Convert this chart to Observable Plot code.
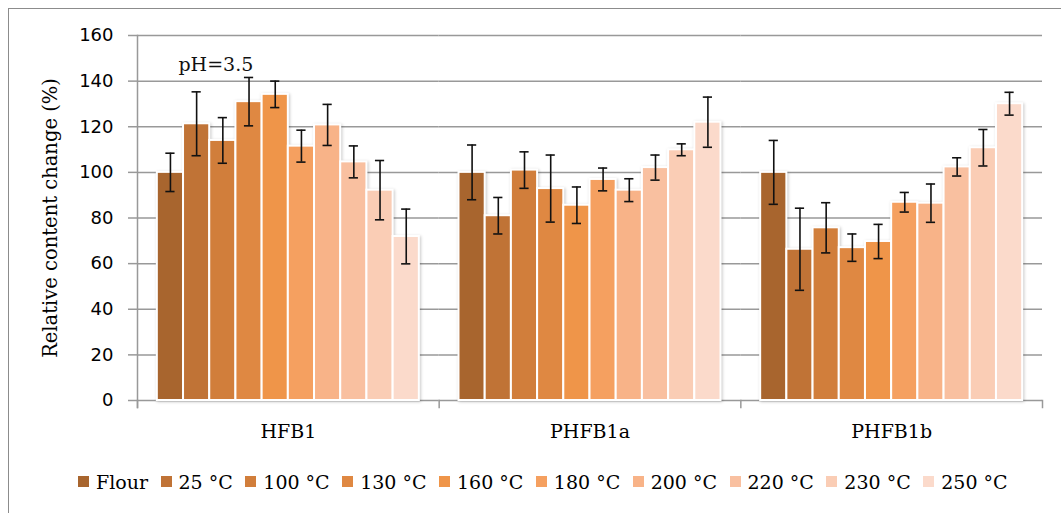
<!DOCTYPE html>
<html><head><meta charset="utf-8">
<script src="https://cdn.jsdelivr.net/npm/d3@7"></script>
<script src="https://cdn.jsdelivr.net/npm/@observablehq/plot@0.6"></script>
<style>
body{margin:0;background:#fff;}
#wrap{position:relative;width:1061px;height:513px;overflow:hidden;background:#fff;}
#border{position:absolute;left:8px;top:8px;right:-10px;bottom:-10px;border-left:1.5px solid #8c8c8c;border-top:1.5px solid #8c8c8c;pointer-events:none;}
#chart{position:absolute;left:0;top:0;}
#legend{position:absolute;left:78px;top:465px;}
div .lg-swatches-wrap{min-height:33px !important;}
div .lg-swatch{margin-right:12.5px !important;}
div .lg-swatch > svg{margin-right:7px !important;}
</style></head><body>
<div id="wrap"><div id="chart"></div><div id="legend"></div><div id="border"></div></div>
<script>
const groups = ["HFB1", "PHFB1a", "PHFB1b"];
const temps = ["Flour", "25 °C", "100 °C", "130 °C", "160 °C", "180 °C", "200 °C", "220 °C", "230 °C", "250 °C"];
const colors = ["#a8652e", "#c07336", "#d17e3b", "#df8842", "#ef9549", "#f5a060", "#f8b388", "#f9c0a0", "#facdb5", "#fbdacb"];
const hfb1 = [100, 121.3, 114, 131, 134.2, 111.5, 120.8, 104.6, 92.2, 71.9];
const hfb1Err = [8.4, 14, 10, 10.6, 5.8, 7, 9, 7, 13, 12];
const phfb1a = [100, 81, 101, 92.9, 85.6, 96.9, 92.2, 102.1, 109.9, 122];
const phfb1aErr = [12, 8, 8, 14.7, 8, 5, 5, 5.5, 2.6, 11];
const phfb1b = [100, 66.3, 75.7, 67, 69.7, 86.9, 86.5, 102.4, 110.8, 130.1];
const phfb1bErr = [14, 18, 11, 6, 7.5, 4.3, 8.4, 4, 8, 5];
const yTicks = [0, 20, 40, 60, 80, 100, 120, 140, 160];
const notes = [{group: "HFB1", temp: "100 °C", y: 147, text: "pH=3.5"}];

const values = [hfb1, phfb1a, phfb1b];
const errors = [hfb1Err, phfb1aErr, phfb1bErr];
const data = [];
groups.forEach((g, gi) => temps.forEach((t, ti) => data.push({group: g, temp: t, value: values[gi][ti], err: errors[gi][ti]})));

const serif = "DejaVu Serif";
const grid = "#999999";

const chart = Plot.plot({
  width: 1061, height: 450,
  marginTop: 35, marginBottom: 50, marginLeft: 137, marginRight: 19,
  style: {background: "white", color: "#000", overflow: "visible"},
  fx: {domain: groups, padding: 0, round: false, axis: null},
  x: {domain: temps, paddingInner: 0, paddingOuter: 0.757, round: false, axis: null},
  y: {domain: [0, 160], axis: null},
  color: {domain: temps, range: colors},
  marks: [
    Plot.ruleY(yTicks, {stroke: grid, strokeWidth: 1.5}),
    Plot.frame({anchor: "left", facetAnchor: "left", stroke: grid, strokeWidth: 1.5, insetBottom: -7}),
    Plot.frame({anchor: "left", stroke: grid, strokeWidth: 1.5, insetTop: 365, insetBottom: -7}),
    Plot.frame({anchor: "right", facetAnchor: "right", stroke: grid, strokeWidth: 1.5, insetTop: 365, insetBottom: -7}),
    Plot.barY(data, {fx: "group", x: "temp", y: "value", fill: "temp", stroke: "white", strokeWidth: 2,
      imageFilter: "drop-shadow(1px 1px 1.5px rgba(0,0,0,0.22))"}),
    Plot.ruleX(data, {fx: "group", x: "temp", y1: d => d.value - d.err, y2: d => d.value + d.err, stroke: "#111", strokeWidth: 1.6}),
    Plot.tickY(data, {fx: "group", x: "temp", y: d => d.value - d.err, insetLeft: 8.5, insetRight: 8.5, stroke: "#111", strokeWidth: 1.6}),
    Plot.tickY(data, {fx: "group", x: "temp", y: d => d.value + d.err, insetLeft: 8.5, insetRight: 8.5, stroke: "#111", strokeWidth: 1.6}),
    Plot.text(notes, {fx: "group", x: "temp", y: "y", text: "text", fontFamily: serif, fontSize: 19, dx: -7, fill: "#111"}),
    Plot.axisY({ticks: yTicks, tickSize: 9, text: null, stroke: grid, strokeWidth: 1.5,
      label: "Relative content change (%)", labelArrow: "none", labelAnchor: "center", labelOffset: 94, fontFamily: serif, fontSize: 19.5}),
    Plot.axisY({ticks: yTicks, tickSize: 0, tickPadding: 24, fontFamily: "DejaVu Sans", fontSize: 18, label: null, fill: "#000"}),
    Plot.axisFx({anchor: "bottom", tickSize: 0, tickPadding: 24, label: null, fontFamily: serif, fontSize: 19, fill: "#000"})
  ]
});
document.getElementById("chart").appendChild(chart);

const legend = Plot.legend({
  color: {type: "ordinal", domain: temps, range: colors},
  legend: "swatches", swatchSize: 11, className: "lg",
  style: {fontFamily: serif, fontSize: "19px", color: "#000"}
});
document.getElementById("legend").appendChild(legend);
</script>
</body></html>
